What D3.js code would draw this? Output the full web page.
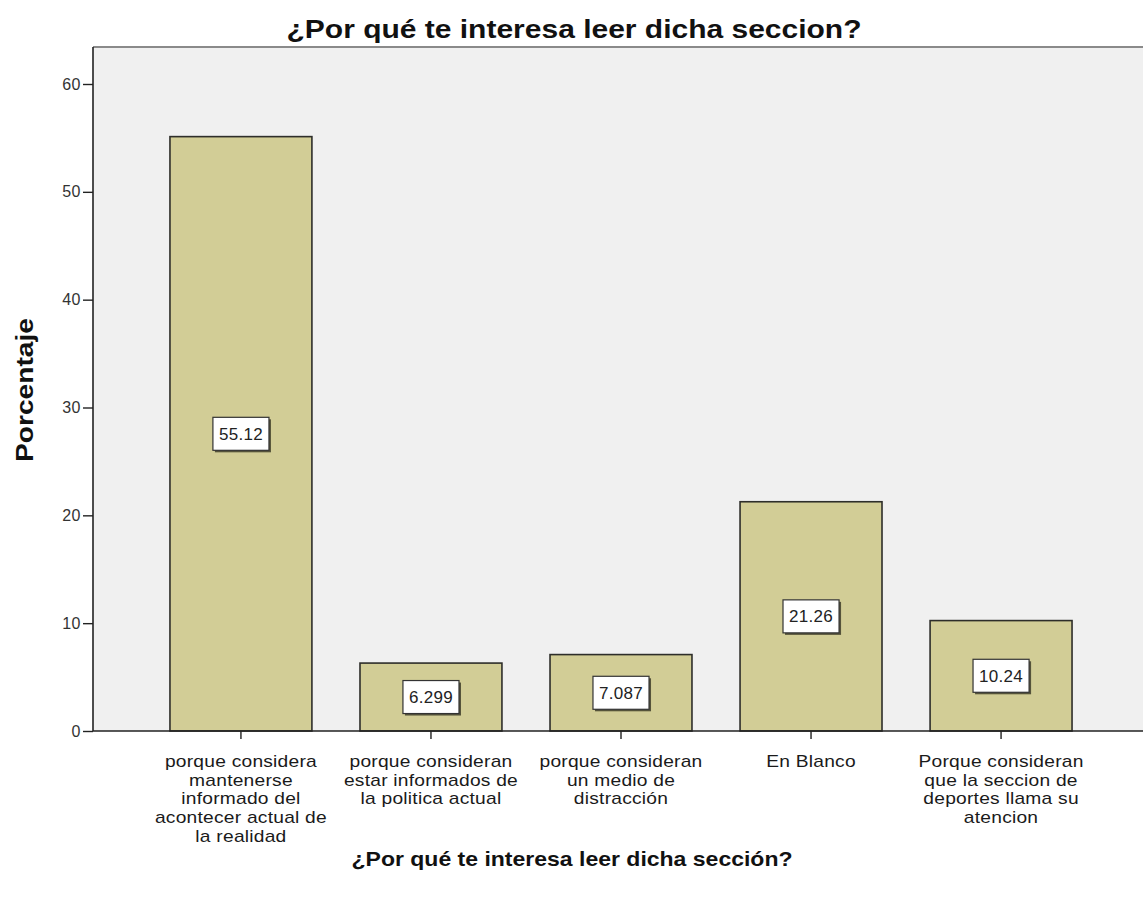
<!DOCTYPE html>
<html>
<head>
<meta charset="utf-8">
<script src="https://cdn.jsdelivr.net/npm/d3@7"></script>
<style>
  html, body { margin: 0; padding: 0; background: #ffffff; }
  svg { display: block; }
  text { font-family: "Liberation Sans", Arial, sans-serif; }
</style>
</head>
<body>
<svg id="chart" width="1143" height="897"></svg>
<script>
// Response categories (one array entry per line of the wrapped label)
const categories = [
  ["porque considera", "mantenerse", "informado del", "acontecer actual de", "la realidad"],
  ["porque consideran", "estar informados de", "la politica actual"],
  ["porque consideran", "un medio de", "distracción"],
  ["En Blanco"],
  ["Porque consideran", "que la seccion de", "deportes llama su", "atencion"]
];
// Percentage of respondents for each category
const values = [55.12, 6.299, 7.087, 21.26, 10.24];
const valueLabels = ["55.12", "6.299", "7.087", "21.26", "10.24"];
const yTicks = [0, 10, 20, 30, 40, 50, 60];

const titleText = "¿Por qué te interesa leer dicha seccion?";
const xTitleText = "¿Por qué te interesa leer dicha sección?";
const yTitleText = "Porcentaje";

const svg = d3.select("#chart");
const plot = { left: 93, right: 1149, top: 47, bottom: 731 };

const x = d3.scaleBand()
  .domain(d3.range(values.length))
  .range([plot.left, plot.right])
  .paddingInner(0.253)
  .paddingOuter(0.405);

const y = d3.scaleLinear()
  .domain([0, 60])
  .range([plot.bottom, 84]);

// plot background
svg.append("rect")
  .attr("x", plot.left).attr("y", plot.top)
  .attr("width", plot.right - plot.left).attr("height", plot.bottom - plot.top)
  .attr("fill", "#f0f0f0");

// top frame line
svg.append("line")
  .attr("x1", plot.left).attr("x2", plot.right)
  .attr("y1", plot.top).attr("y2", plot.top)
  .attr("stroke", "#8a8a8a").attr("stroke-width", 2);

// bars
svg.selectAll("rect.bar")
  .data(values)
  .enter().append("rect")
  .attr("class", "bar")
  .attr("x", (d, i) => x(i))
  .attr("y", d => y(d))
  .attr("width", x.bandwidth())
  .attr("height", d => y(0) - y(d))
  .attr("fill", "#d2cd96")
  .attr("stroke", "#2e2e2a")
  .attr("stroke-width", 1.6);

// y axis
const yAxis = svg.append("g")
  .attr("transform", `translate(${plot.left},0)`)
  .call(d3.axisLeft(y).tickValues(yTicks).tickSize(10).tickPadding(2).tickFormat(d3.format("d")));
yAxis.select(".domain").attr("d", `M0,${plot.top}V${plot.bottom}`).attr("stroke", "#222").attr("stroke-width", 1.6);
yAxis.selectAll(".tick line").attr("stroke", "#222").attr("stroke-width", 1.4);
yAxis.selectAll(".tick text")
  .attr("font-size", 16).attr("fill", "#333")
  .attr("letter-spacing", 0.5)
  .attr("font-family", "'Liberation Sans', Arial, sans-serif");

// x axis
const xAxis = svg.append("g")
  .attr("transform", `translate(0,${plot.bottom})`)
  .call(d3.axisBottom(x).tickSize(8).tickFormat(""));
xAxis.select(".domain").attr("d", `M${plot.left},0H${plot.right}`).attr("stroke", "#222").attr("stroke-width", 1.6);
xAxis.selectAll(".tick line").attr("stroke", "#222").attr("stroke-width", 1.4);

// wrapped category labels, one text per line, slightly widened
const catG = svg.append("g");
categories.forEach((lines, i) => {
  const cx = x(i) + x.bandwidth() / 2;
  lines.forEach((ln, j) => {
    catG.append("text")
      .attr("transform", `translate(${cx},${767 + j * 18.7}) scale(1.2,1)`)
      .attr("text-anchor", "middle")
      .attr("font-size", 16)
      .attr("letter-spacing", 0.2)
      .attr("fill", "#1a1a1a")
      .text(ln);
  });
});

// value labels in boxes at the middle of each bar
const lblG = svg.append("g");
values.forEach((v, i) => {
  const cx = x(i) + x.bandwidth() / 2;
  const cy = (y(v) + y(0)) / 2;
  const g = lblG.append("g");
  const txt = g.append("text")
    .attr("x", cx).attr("y", cy + 6)
    .attr("text-anchor", "middle")
    .attr("font-size", 17)
    .attr("letter-spacing", 0.3)
    .attr("fill", "#222")
    .text(valueLabels[i]);
  const bb = txt.node().getBBox();
  const w = bb.width + 12, h = 33;
  g.insert("rect", "text")
    .attr("x", cx - w / 2 + 2).attr("y", cy - h / 2 + 2)
    .attr("width", w).attr("height", h)
    .attr("fill", "#55533a");
  g.insert("rect", "text")
    .attr("x", cx - w / 2).attr("y", cy - h / 2)
    .attr("width", w).attr("height", h)
    .attr("fill", "#ffffff")
    .attr("stroke", "#333").attr("stroke-width", 1.2);
});

// titles
svg.append("text")
  .attr("x", 574).attr("y", 38)
  .attr("text-anchor", "middle")
  .attr("font-size", 25).attr("font-weight", "bold")
  .attr("textLength", 575).attr("lengthAdjust", "spacingAndGlyphs")
  .attr("fill", "#111")
  .text(titleText);

svg.append("text")
  .attr("x", 572).attr("y", 866)
  .attr("text-anchor", "middle")
  .attr("font-size", 21).attr("font-weight", "bold")
  .attr("textLength", 441).attr("lengthAdjust", "spacingAndGlyphs")
  .attr("fill", "#111")
  .text(xTitleText);

svg.append("text")
  .attr("transform", `translate(33,390) rotate(-90)`)
  .attr("text-anchor", "middle")
  .attr("font-size", 23).attr("font-weight", "bold")
  .attr("textLength", 144).attr("lengthAdjust", "spacingAndGlyphs")
  .attr("fill", "#111")
  .text(yTitleText);
</script>
</body>
</html>
